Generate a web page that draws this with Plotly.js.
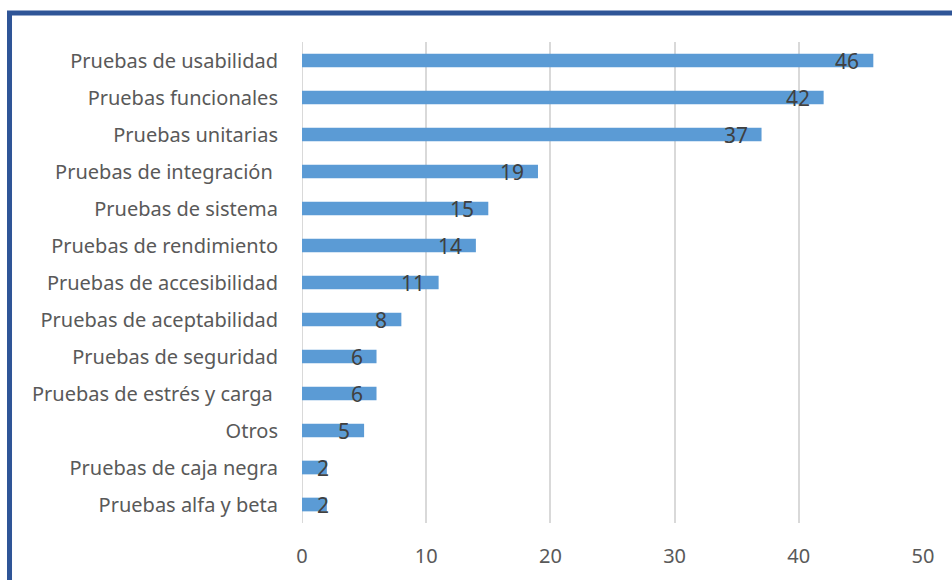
<!DOCTYPE html>
<html><head><meta charset="utf-8">
<script src="https://cdn.plot.ly/plotly-3.0.1.min.js"></script>
<style>html,body{margin:0;padding:0;background:#fff}#c{width:952px;height:580px}</style>
</head><body><div id="c"></div>
<script>
const categories = ["Pruebas de usabilidad","Pruebas funcionales","Pruebas unitarias","Pruebas de integración\u00a0","Pruebas de sistema","Pruebas de rendimiento","Pruebas de accesibilidad","Pruebas de aceptabilidad","Pruebas de seguridad","Pruebas de estrés y carga\u00a0","Otros","Pruebas de caja negra","Pruebas alfa y beta"];
const values = [46,42,37,19,15,14,11,8,6,6,5,2,2];
const xTicks = [0,10,20,30,40,50];

const font = "'Noto Sans', 'Open Sans', sans-serif";
const annotations = values.map((v,i)=>{
  const short = v < 3;
  return {
    x: short ? 0 : v, y: categories[i], xref:'x', yref:'y', text: String(v),
    xanchor: short ? 'left' : 'right', yanchor:'middle', xshift: short ? 13 : -12, yshift:0, showarrow:false,
    font:{family:font, size:21, color:'#404040'}
  };
});

const trace = {
  type:'bar', orientation:'h', x: values, y: categories,
  marker:{color:'#5B9BD5'}, width:0.37, hoverinfo:'none'
};
const layout = {
  width:952, height:580,
  margin:{l:302, r:29, t:42, b:57, pad:0},
  paper_bgcolor:'#fff', plot_bgcolor:'#fff',
  showlegend:false,
  xaxis:{range:[0,50], tickvals:xTicks, showgrid:true, gridcolor:'#D9D9D9', gridwidth:2,
    zeroline:false, showline:false, ticks:'outside', ticklen:15, tickcolor:'rgba(0,0,0,0)',
    tickfont:{family:font, size:20, color:'#595959'}, fixedrange:true},
  yaxis:{type:'category', categoryorder:'array', categoryarray:categories, autorange:'reversed',
    showgrid:false, zeroline:false, showline:false, ticks:'outside', ticklen:19, tickcolor:'rgba(0,0,0,0)',
    tickfont:{family:font, size:20, color:'#595959'}, fixedrange:true},
  annotations: annotations,
  shapes:[
    {type:'line', xref:'x', yref:'paper', x0:0, x1:0, y0:0, y1:1, line:{color:'#D9D9D9', width:2}, layer:'below'},
    {type:'rect', xref:'paper', yref:'paper', x0:-0.471, x1:1.2, y0:-0.3, y1:1.0603, line:{color:'#2F5597', width:5}, fillcolor:'rgba(0,0,0,0)'}
  ]
};
Plotly.newPlot('c',[trace],layout,{displayModeBar:false, staticPlot:true});
</script></body></html>
